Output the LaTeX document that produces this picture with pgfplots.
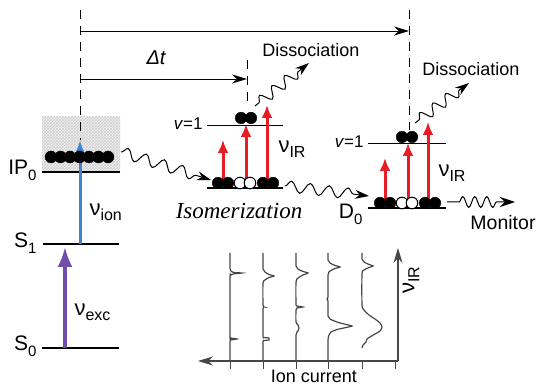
\documentclass[border=0pt]{standalone}
\usepackage{pgfplots}
\pgfplotsset{compat=1.18}
\usepackage{fontspec}
\setmainfont{Liberation Sans}
\newfontfamily\serifit{Liberation Serif}
\usetikzlibrary{arrows.meta,decorations.pathmorphing,patterns}
\definecolor{irred}{RGB}{232,28,36}
\definecolor{ionblue}{RGB}{62,132,204}
\definecolor{excpurple}{RGB}{112,78,168}
\definecolor{spec}{RGB}{70,70,70}
\newcommand\fs[1]{\fontsize{#1}{#1}\selectfont}
\newcommand\lvl[2]{{\fs{21}#1}{\fs{15}\raisebox{-6pt}{#2}}}
\newcommand\nuu[1]{{\fs{22}ν}{\fs{16}\raisebox{-5pt}{#1}}}
\begin{document}
\begin{tikzpicture}
\useasboundingbox (0,0) rectangle (539pt,387pt);
\begin{axis}[at={(0,0)}, anchor=south west, width=539pt, height=387pt, scale only axis,
  xmin=0, xmax=539, ymin=0, ymax=387, y dir=reverse, hide axis, clip=false]
% hatched box
\addplot [draw=none, fill=gray!8] coordinates {(42,117)(120,117)(120,172)(42,172)} -- cycle;
\addplot [draw=none, pattern=crosshatch, pattern color=gray!40] coordinates {(42,117)(120,117)(120,172)(42,172)} -- cycle;
% dashed lines
\addplot [black, line width=0.8pt, dash pattern=on 9pt off 7pt] coordinates {(80,10)(80,140)};
\addplot [black, line width=0.8pt, dash pattern=on 9pt off 7pt] coordinates {(247,60)(247,108)};
\addplot [black, line width=0.8pt, dash pattern=on 9pt off 7pt] coordinates {(409,10)(409,130)};
% time arrows
\addplot [black, line width=0.9pt, -{Stealth[length=15pt,width=9pt]}] coordinates {(80,31)(409,31)};
\addplot [black, line width=0.9pt, -{Stealth[length=15pt,width=9pt]}] coordinates {(80,79)(247,79)};
\node[font=\fs{20}\itshape] at (156,58) {Δt};
% left levels
\addplot [black, line width=2pt] coordinates {(42,172)(120,172)};
\addplot [black, line width=2pt] coordinates {(43,244)(119,244)};
\addplot [black, line width=2pt] coordinates {(42,348)(119,348)};
\node[anchor=east] at (40,170) {\lvl{IP}{0}};
\node[anchor=east] at (40,243) {\lvl{S}{1}};
\node[anchor=east] at (40,346) {\lvl{S}{0}};
\addplot [only marks, mark=*, mark size=6pt, black] coordinates {(51,157)(60.5,157)(70,157)(79.5,157)(89,157)(98.5,157)(108,157)};
\addplot [ionblue, line width=3pt, -{Latex[length=15pt,width=12pt]}] coordinates {(80,244)(80,140)};
\addplot [excpurple, line width=3.2pt, -{Latex[length=20pt,width=15pt]}] coordinates {(65,348)(65,247)};
\node[anchor=west] at (86,212) {\nuu{ion}};
\node[anchor=west] at (71,312) {\nuu{exc}};
% wave IP -> middle
\addplot [black, line width=1pt, decorate, decoration={snake, amplitude=5.5pt, segment length=19pt, post length=7pt}, -{Stealth[length=14pt,width=9pt]}] coordinates {(121,152)(211,180)};
% middle block
\addplot [black, line width=2pt] coordinates {(207,188)(283,188)};
\addplot [black, line width=0.8pt] coordinates {(207,125)(283,125)};
\node[anchor=east, font=\fs{17}] at (206,124) {\textit{v}=1};
\addplot [only marks, mark=*, mark size=5.8pt, black] coordinates {(218,183)(228,183)(263,183)(273,183)(241,118)(251,118)};
\addplot [only marks, mark=*, mark size=5.8pt, black, mark options={fill=white, line width=1pt}] coordinates {(240,183)(250,183)};
\addplot [irred, line width=3pt, -{Latex[length=13pt,width=11pt]}] coordinates {(223,182)(223,140)};
\addplot [irred, line width=3pt, -{Latex[length=13pt,width=11pt]}] coordinates {(246,182)(246,124)};
\addplot [irred, line width=3pt, -{Latex[length=13pt,width=11pt]}] coordinates {(267,182)(267,105)};
\node[anchor=west] at (275,149) {\nuu{IR}};
\addplot [black, line width=1pt, decorate, decoration={snake, amplitude=5.5pt, segment length=16pt, post length=9pt, pre length=5pt}, -{Stealth[length=14pt,width=9pt]}] coordinates {(255,106)(309,63)};
\node[font=\fs{18}] at (311,50) {Dissociation};
\node[font=\fs{23}\serifit\itshape] at (239,211) {Isomerization};
% wave middle -> right
\addplot [black, line width=1pt, decorate, decoration={snake, amplitude=5.5pt, segment length=19pt, post length=7pt}, -{Stealth[length=14pt,width=9pt]}] coordinates {(285,186)(369,196)};
% right block
\addplot [black, line width=2pt] coordinates {(368,208)(446,208)};
\addplot [black, line width=0.8pt] coordinates {(368,143)(446,143)};
\node[anchor=east, font=\fs{17}] at (367,142) {\textit{v}=1};
\node[anchor=east] at (366,214) {\lvl{D}{0}};
\addplot [only marks, mark=*, mark size=5.8pt, black] coordinates {(380,203)(390,203)(425,203)(435,203)(402,137)(412,137)};
\addplot [only marks, mark=*, mark size=5.8pt, black, mark options={fill=white, line width=1pt}] coordinates {(402,203)(412,203)};
\addplot [irred, line width=3pt, -{Latex[length=13pt,width=11pt]}] coordinates {(385,202)(385,158)};
\addplot [irred, line width=3pt, -{Latex[length=13pt,width=11pt]}] coordinates {(408,202)(408,143)};
\addplot [irred, line width=3pt, -{Latex[length=13pt,width=11pt]}] coordinates {(428,202)(428,122)};
\node[anchor=west] at (435,173) {\nuu{IR}};
\addplot [black, line width=1pt, decorate, decoration={snake, amplitude=5.5pt, segment length=16pt, post length=9pt, pre length=5pt}, -{Stealth[length=14pt,width=9pt]}] coordinates {(415,123)(469,83)};
\node[font=\fs{18}] at (471,69) {Dissociation};
\addplot [black, line width=1pt, decorate, decoration={snake, amplitude=5.5pt, segment length=12pt, post length=16pt, pre length=12pt}, -{Stealth[length=15pt,width=10pt]}] coordinates {(447,202)(515,202)};
\node[font=\fs{19.5}] at (503,223) {Monitor};
% spectra panel
\addplot [spec, line width=1.1pt, -{Stealth[length=15pt,width=9pt]}] coordinates {(398,361)(198,361)};
\addplot [spec, line width=1.1pt, -{Stealth[length=15pt,width=9pt]}] coordinates {(398,361)(398,248)};
\addplot [spec, line width=1pt] coordinates {(230,361)(230,369)};
\addplot [spec, line width=1pt] coordinates {(263,361)(263,369)};
\addplot [spec, line width=1pt] coordinates {(296,361)(296,369)};
\addplot [spec, line width=1pt] coordinates {(328,361)(328,369)};
\addplot [spec, line width=1pt] coordinates {(362,361)(362,369)};
\addplot [spec, line width=1pt] coordinates {(395,361)(395,369)};
\node[rotate=90] at (411,280) {\nuu{IR}};
\node[font=\fs{18}, anchor=base, inner sep=1pt] at (314,383) {Ion current};
\addplot [spec, line width=1.2pt, smooth, tension=0.4] coordinates {(230,253)(230,268)(231,271)(234,272.5)(242,273)(234,273.8)(231,275)(230,278)(230,336)(231,338)(237,339)(231,340)(230,342)(230,361)};
\addplot [spec, line width=1.2pt, smooth, tension=0.4] coordinates {(263,253)(263,269)(265,272)(269,274.5)(274,276)(269,277.5)(265,280)(263,283)(263,305)(264,307)(263,309)(263,336)(264,337.5)(269,338)(269,340)(264,340.5)(263,342)(263,361)};
\addplot [spec, line width=1.2pt, smooth, tension=0.4] coordinates {(296,253)(296,266)(298,269)(303,271.5)(308,273)(303,275)(298,278)(296,282)(296,304)(297,306)(303,307)(297,308)(296,310)(296,322)(298,325)(299,328)(298,331)(296,335)(296,361)};
\addplot [spec, line width=1.2pt, smooth, tension=0.4] coordinates {(328,253)(328,260)(330,263)(335,265.5)(340,267)(335,268.5)(330,271)(328,275)(328,297)(327,299)(328,301)(328,316)(330,319)(337,322)(346,324.5)(352,326)(346,327.5)(337,329.5)(331,332)(329,335)(328,340)(328,361)};
\addplot [spec, line width=1.2pt, smooth, tension=0.4] coordinates {(362,253)(362,259)(364,262)(369,264.5)(373,266)(369,267.5)(364,270)(362,274)(362,305)(364,310)(369,315)(375,319)(380,323)(382,327)(380,331)(375,334)(370,337)(367,339)(366,342)(363,345)(362,348)};
\end{axis}
\end{tikzpicture}
\end{document}
